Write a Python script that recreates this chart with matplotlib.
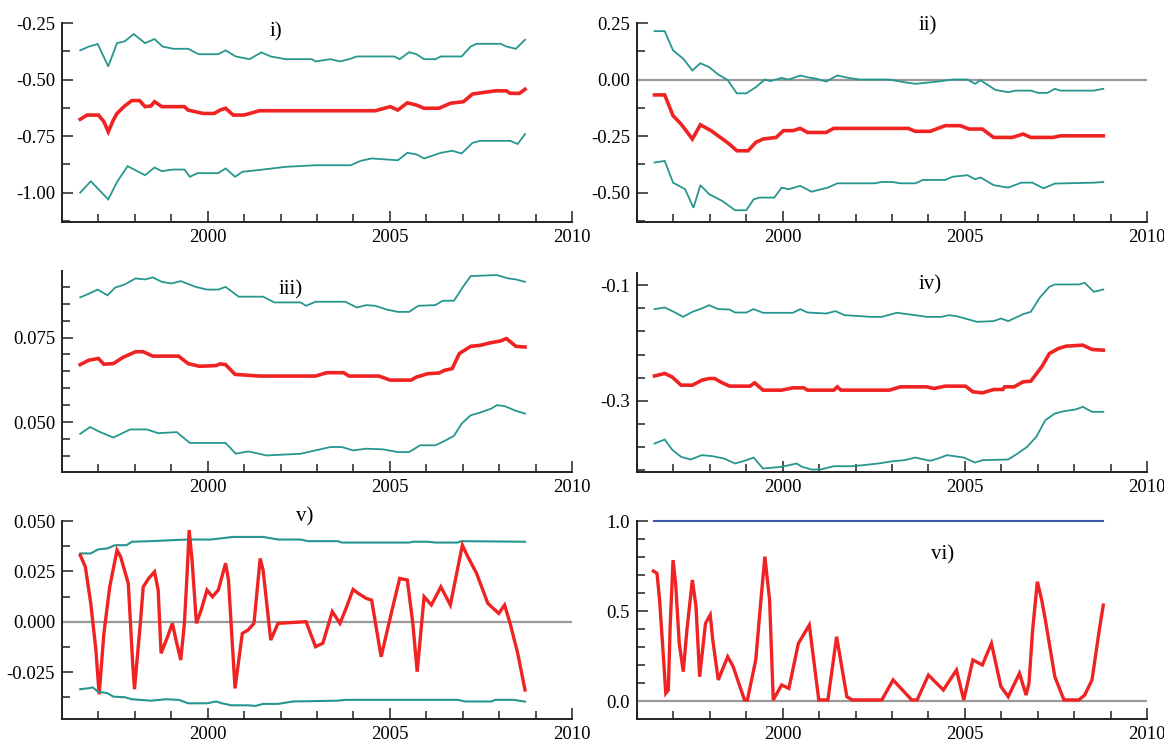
import numpy as np
import matplotlib
matplotlib.use('Agg')
import matplotlib.pyplot as plt
from matplotlib.ticker import FixedLocator, MultipleLocator

plt.rcParams['font.family'] = ['Liberation Serif', 'DejaVu Serif']
plt.rcParams['axes.unicode_minus'] = False

# ---- panel i) ----
i_upper = [(1996.50, -0.371), (1996.74, -0.354), (1996.98, -0.343), (1997.27, -0.442), (1997.51, -0.339),
           (1997.72, -0.331), (1997.97, -0.299), (1998.28, -0.339), (1998.54, -0.321), (1998.76, -0.354),
           (1999.05, -0.364), (1999.46, -0.364), (1999.75, -0.388), (2000.29, -0.388), (2000.49, -0.371),
           (2000.77, -0.398), (2001.15, -0.410), (2001.47, -0.380), (2001.73, -0.398), (2002.14, -0.410),
           (2002.86, -0.410), (2002.96, -0.420), (2003.37, -0.410), (2003.63, -0.420), (2003.88, -0.410),
           (2004.09, -0.398), (2005.12, -0.398), (2005.27, -0.410), (2005.53, -0.379), (2005.73, -0.388),
           (2005.94, -0.410), (2006.25, -0.410), (2006.40, -0.398), (2006.97, -0.398), (2007.22, -0.354),
           (2007.38, -0.342), (2008.04, -0.342), (2008.20, -0.354), (2008.46, -0.364), (2008.71, -0.324)]
i_mid = [(1996.50, -0.676), (1996.69, -0.657), (1997.00, -0.657), (1997.15, -0.686), (1997.27, -0.731),
         (1997.41, -0.679), (1997.51, -0.650), (1997.72, -0.617), (1997.92, -0.593), (1998.13, -0.593),
         (1998.28, -0.620), (1998.44, -0.617), (1998.54, -0.598), (1998.74, -0.620), (1999.36, -0.620),
         (1999.46, -0.635), (1999.87, -0.650), (2000.18, -0.650), (2000.34, -0.635), (2000.49, -0.627),
         (2000.70, -0.657), (2001.00, -0.657), (2001.42, -0.638), (2004.60, -0.638), (2005.01, -0.620),
         (2005.22, -0.635), (2005.48, -0.603), (2005.73, -0.613), (2005.94, -0.627), (2006.35, -0.627),
         (2006.66, -0.605), (2007.02, -0.598), (2007.27, -0.564), (2007.89, -0.550), (2008.20, -0.550),
         (2008.30, -0.561), (2008.56, -0.561), (2008.71, -0.543)]
i_lower = [(1996.50, -1.000), (1996.79, -0.950), (1997.27, -1.030), (1997.51, -0.953), (1997.80, -0.883),
           (1998.28, -0.923), (1998.54, -0.889), (1998.74, -0.905), (1999.05, -0.898), (1999.36, -0.898),
           (1999.51, -0.930), (1999.72, -0.914), (2000.29, -0.914), (2000.49, -0.893), (2000.75, -0.930),
           (2000.95, -0.908), (2001.52, -0.898), (2002.14, -0.886), (2002.96, -0.879), (2003.93, -0.879),
           (2004.19, -0.860), (2004.50, -0.849), (2005.22, -0.857), (2005.48, -0.824), (2005.73, -0.831),
           (2005.94, -0.849), (2006.40, -0.824), (2006.71, -0.815), (2006.97, -0.827), (2007.27, -0.780),
           (2007.48, -0.771), (2008.30, -0.771), (2008.51, -0.785), (2008.71, -0.741)]

# ---- panel ii) ----
ii_upper = [(1996.48, 0.214), (1996.76, 0.214), (1996.99, 0.129), (1997.27, 0.092), (1997.52, 0.040),
            (1997.74, 0.072), (1997.98, 0.055), (1998.23, 0.022), (1998.49, -0.002), (1998.74, -0.061),
            (1999.00, -0.061), (1999.26, -0.034), (1999.51, 0.000), (1999.66, -0.007), (1999.97, 0.007),
            (2000.17, 0.000), (2000.48, 0.018), (2000.68, 0.010), (2000.94, 0.003), (2001.19, -0.009),
            (2001.50, 0.018), (2001.81, 0.007), (2002.11, 0.000), (2002.93, 0.000), (2003.34, -0.012),
            (2003.64, -0.019), (2004.26, -0.009), (2004.66, 0.000), (2005.07, 0.000), (2005.28, -0.019),
            (2005.43, -0.003), (2005.58, -0.019), (2005.84, -0.046), (2006.19, -0.056), (2006.40, -0.049),
            (2006.81, -0.049), (2007.01, -0.059), (2007.27, -0.059), (2007.47, -0.041), (2007.62, -0.049),
            (2008.54, -0.049), (2008.80, -0.041)]
ii_mid = [(1996.48, -0.068), (1996.76, -0.068), (1996.99, -0.160), (1997.21, -0.197), (1997.52, -0.263),
          (1997.74, -0.200), (1998.03, -0.226), (1998.29, -0.256), (1998.54, -0.286), (1998.74, -0.315),
          (1999.05, -0.315), (1999.26, -0.278), (1999.46, -0.263), (1999.82, -0.256), (2000.02, -0.226),
          (2000.28, -0.226), (2000.48, -0.216), (2000.68, -0.234), (2001.19, -0.234), (2001.40, -0.216),
          (2003.44, -0.216), (2003.64, -0.229), (2004.05, -0.229), (2004.26, -0.216), (2004.46, -0.204),
          (2004.87, -0.204), (2005.12, -0.219), (2005.48, -0.219), (2005.79, -0.256), (2006.30, -0.256),
          (2006.60, -0.241), (2006.81, -0.256), (2007.42, -0.256), (2007.62, -0.249), (2008.80, -0.249)]
ii_lower = [(1996.48, -0.367), (1996.76, -0.360), (1996.99, -0.456), (1997.32, -0.485), (1997.55, -0.567),
            (1997.74, -0.467), (1997.98, -0.507), (1998.34, -0.537), (1998.69, -0.578), (1999.00, -0.578),
            (1999.20, -0.530), (1999.36, -0.522), (1999.77, -0.522), (1999.97, -0.478), (2000.17, -0.485),
            (2000.48, -0.470), (2000.79, -0.496), (2001.24, -0.478), (2001.50, -0.459), (2002.52, -0.459),
            (2002.72, -0.453), (2003.01, -0.453), (2003.23, -0.459), (2003.64, -0.459), (2003.85, -0.444),
            (2004.46, -0.444), (2004.66, -0.430), (2005.07, -0.423), (2005.28, -0.441), (2005.43, -0.433),
            (2005.79, -0.467), (2006.19, -0.478), (2006.55, -0.456), (2006.85, -0.456), (2007.16, -0.481),
            (2007.47, -0.460), (2008.54, -0.456), (2008.80, -0.453)]

# ---- panel iii) ----
iii_upper = [(1996.50, 0.0869), (1996.74, 0.0880), (1996.98, 0.0892), (1997.25, 0.0875), (1997.46, 0.0898),
             (1997.72, 0.0907), (1998.02, 0.0925), (1998.28, 0.0922), (1998.49, 0.0928), (1998.74, 0.0915),
             (1999.00, 0.0910), (1999.26, 0.0917), (1999.67, 0.0900), (1999.98, 0.0892), (2000.29, 0.0892),
             (2000.49, 0.0900), (2000.85, 0.0871), (2001.52, 0.0871), (2001.83, 0.0854), (2002.55, 0.0854),
             (2002.70, 0.0844), (2002.96, 0.0856), (2003.78, 0.0856), (2004.09, 0.0839), (2004.35, 0.0846),
             (2004.60, 0.0844), (2004.91, 0.0833), (2005.22, 0.0826), (2005.53, 0.0826), (2005.78, 0.0844),
             (2006.25, 0.0846), (2006.45, 0.0859), (2006.76, 0.0859), (2007.02, 0.0902), (2007.22, 0.0932),
             (2007.94, 0.0935), (2008.25, 0.0925), (2008.46, 0.0922), (2008.71, 0.0915)]
iii_mid = [(1996.50, 0.0670), (1996.74, 0.0683), (1997.00, 0.0688), (1997.15, 0.0671), (1997.41, 0.0673),
           (1997.67, 0.0691), (1998.02, 0.0708), (1998.23, 0.0708), (1998.49, 0.0695), (1999.20, 0.0695),
           (1999.46, 0.0673), (1999.77, 0.0665), (2000.23, 0.0667), (2000.34, 0.0672), (2000.49, 0.0670),
           (2000.75, 0.0641), (2001.42, 0.0636), (2002.96, 0.0636), (2003.27, 0.0646), (2003.73, 0.0646),
           (2003.88, 0.0636), (2004.70, 0.0636), (2005.01, 0.0624), (2005.58, 0.0624), (2005.73, 0.0633),
           (2006.04, 0.0643), (2006.35, 0.0645), (2006.50, 0.0653), (2006.71, 0.0658), (2006.91, 0.0703),
           (2007.22, 0.0724), (2007.48, 0.0727), (2007.74, 0.0734), (2008.04, 0.0740), (2008.20, 0.0747),
           (2008.46, 0.0724), (2008.71, 0.0722)]
iii_lower = [(1996.50, 0.0465), (1996.77, 0.0485), (1997.05, 0.0470), (1997.41, 0.0454), (1997.87, 0.0478),
             (1998.33, 0.0478), (1998.64, 0.0467), (1999.15, 0.0470), (1999.51, 0.0438), (2000.49, 0.0438),
             (2000.77, 0.0406), (2001.11, 0.0413), (2001.62, 0.0401), (2002.55, 0.0406), (2002.96, 0.0416),
             (2003.37, 0.0426), (2003.68, 0.0426), (2003.99, 0.0416), (2004.35, 0.0421), (2004.81, 0.0419),
             (2005.22, 0.0411), (2005.53, 0.0411), (2005.83, 0.0431), (2006.25, 0.0431), (2006.50, 0.0444),
             (2006.76, 0.0459), (2006.97, 0.0495), (2007.22, 0.0520), (2007.48, 0.0528), (2007.79, 0.0540),
             (2007.94, 0.0550), (2008.15, 0.0547), (2008.46, 0.0533), (2008.71, 0.0525)]

# ---- panel iv) ----
iv_upper = [(1996.48, -0.1415), (1996.76, -0.1386), (1997.01, -0.1461), (1997.27, -0.1548), (1997.52, -0.1461),
            (1997.78, -0.1403), (1997.98, -0.1346), (1998.23, -0.1415), (1998.54, -0.1421), (1998.69, -0.1473),
            (1999.00, -0.1473), (1999.20, -0.1415), (1999.46, -0.1478), (2000.28, -0.1478), (2000.48, -0.1415),
            (2000.68, -0.1473), (2001.19, -0.1490), (2001.45, -0.1450), (2001.70, -0.1519), (2002.42, -0.1548),
            (2002.72, -0.1548), (2003.13, -0.1478), (2003.64, -0.1519), (2003.95, -0.1548), (2004.36, -0.1548),
            (2004.56, -0.1519), (2004.77, -0.1536), (2005.17, -0.1605), (2005.33, -0.1634), (2005.79, -0.1622),
            (2005.99, -0.1576), (2006.19, -0.1622), (2006.60, -0.1501), (2006.81, -0.1461), (2007.06, -0.1213),
            (2007.32, -0.1029), (2007.47, -0.0988), (2008.13, -0.0988), (2008.29, -0.0960), (2008.54, -0.1115),
            (2008.80, -0.1075)]
iv_mid = [(1996.48, -0.2570), (1996.76, -0.2527), (1996.96, -0.2585), (1997.21, -0.2729), (1997.52, -0.2729),
          (1997.78, -0.2643), (1997.98, -0.2614), (1998.13, -0.2614), (1998.34, -0.2689), (1998.54, -0.2746),
          (1999.10, -0.2746), (1999.23, -0.2689), (1999.46, -0.2815), (1999.97, -0.2815), (2000.28, -0.2775),
          (2000.58, -0.2775), (2000.68, -0.2815), (2001.40, -0.2815), (2001.50, -0.2758), (2001.60, -0.2815),
          (2002.93, -0.2815), (2003.23, -0.2758), (2003.95, -0.2758), (2004.15, -0.2786), (2004.46, -0.2746),
          (2005.02, -0.2746), (2005.22, -0.2844), (2005.48, -0.2862), (2005.79, -0.2804), (2006.04, -0.2804),
          (2006.09, -0.2758), (2006.35, -0.2758), (2006.60, -0.2671), (2006.81, -0.2660), (2007.11, -0.2412),
          (2007.32, -0.2182), (2007.57, -0.2095), (2007.78, -0.2055), (2008.24, -0.2037), (2008.49, -0.2112),
          (2008.80, -0.2124)]
iv_lower = [(1996.48, -0.3738), (1996.76, -0.3669), (1996.96, -0.3841), (1997.21, -0.3968), (1997.47, -0.4014),
            (1997.78, -0.3939), (1998.08, -0.3957), (1998.39, -0.3997), (1998.69, -0.4083), (1998.95, -0.4037),
            (1999.20, -0.3980), (1999.46, -0.4170), (1999.97, -0.4141), (2000.38, -0.4083), (2000.53, -0.4141),
            (2000.79, -0.4187), (2001.04, -0.4187), (2001.40, -0.4130), (2001.91, -0.4130), (2002.21, -0.4112),
            (2002.62, -0.4083), (2003.03, -0.4043), (2003.34, -0.4026), (2003.64, -0.3980), (2004.05, -0.4037),
            (2004.26, -0.3997), (2004.51, -0.3939), (2004.97, -0.3980), (2005.28, -0.4066), (2005.48, -0.4026),
            (2006.19, -0.4014), (2006.45, -0.3910), (2006.71, -0.3795), (2006.96, -0.3622), (2007.21, -0.3334),
            (2007.47, -0.3219), (2007.72, -0.3179), (2008.03, -0.3150), (2008.24, -0.3104), (2008.49, -0.3190),
            (2008.80, -0.3190)]

# ---- panel v) ----
v_upper = [(1996.50, 0.0339), (1996.79, 0.0339), (1996.99, 0.0359), (1997.25, 0.0364), (1997.46, 0.0380),
           (1997.77, 0.0380), (1997.92, 0.0397), (1998.44, 0.0400), (1999.05, 0.0405), (1999.46, 0.0408),
           (2000.08, 0.0408), (2000.70, 0.0421), (2001.52, 0.0421), (2001.93, 0.0408), (2002.55, 0.0408),
           (2002.75, 0.0400), (2003.57, 0.0400), (2003.68, 0.0393), (2005.53, 0.0393), (2005.63, 0.0397),
           (2006.04, 0.0397), (2006.25, 0.0393), (2006.86, 0.0393), (2006.97, 0.0400), (2008.71, 0.0397)]
v_mid = [(1996.50, 0.0330), (1996.64, 0.0273), (1996.79, 0.0091), (1996.93, -0.0140), (1997.02, -0.0360),
         (1997.15, -0.0058), (1997.31, 0.0173), (1997.51, 0.0355), (1997.61, 0.0322), (1997.82, 0.0190),
         (1997.94, -0.0207), (1997.99, -0.0335), (1998.15, -0.0008), (1998.23, 0.0173), (1998.38, 0.0215),
         (1998.54, 0.0248), (1998.64, 0.0157), (1998.72, -0.0157), (1998.90, -0.0074), (1999.03, -0.0008),
         (1999.13, -0.0091), (1999.26, -0.0190), (1999.36, -0.0008), (1999.43, 0.0223), (1999.49, 0.0455),
         (1999.57, 0.0306), (1999.69, -0.0008), (1999.82, 0.0058), (1999.98, 0.0157), (2000.13, 0.0124),
         (2000.29, 0.0157), (2000.49, 0.0290), (2000.57, 0.0207), (2000.75, -0.0331), (2000.95, -0.0058),
         (2001.11, -0.0041), (2001.27, -0.0008), (2001.44, 0.0314), (2001.52, 0.0256), (2001.73, -0.0091),
         (2001.93, -0.0008), (2002.70, 0.0000), (2002.96, -0.0124), (2003.16, -0.0107), (2003.42, 0.0050),
         (2003.63, -0.0008), (2003.78, 0.0058), (2003.99, 0.0160), (2004.14, 0.0140), (2004.35, 0.0116),
         (2004.50, 0.0107), (2004.76, -0.0174), (2005.06, 0.0058), (2005.27, 0.0215), (2005.48, 0.0207),
         (2005.63, -0.0008), (2005.75, -0.0248), (2005.94, 0.0124), (2006.14, 0.0083), (2006.40, 0.0173),
         (2006.66, 0.0083), (2006.99, 0.0380), (2007.12, 0.0330), (2007.38, 0.0240), (2007.69, 0.0091),
         (2007.99, 0.0041), (2008.15, 0.0083), (2008.30, -0.0008), (2008.51, -0.0157), (2008.71, -0.0339)]
v_lower = [(1996.50, -0.0335), (1996.74, -0.0330), (1996.84, -0.0326), (1996.99, -0.0347), (1997.25, -0.0355),
           (1997.41, -0.0372), (1997.72, -0.0375), (1997.92, -0.0385), (1998.44, -0.0392), (1998.85, -0.0385),
           (1999.21, -0.0388), (1999.46, -0.0405), (1999.98, -0.0405), (2000.23, -0.0396), (2000.39, -0.0405),
           (2000.65, -0.0415), (2001.11, -0.0415), (2001.31, -0.0418), (2001.52, -0.0408), (2001.93, -0.0408),
           (2002.34, -0.0396), (2003.57, -0.0392), (2003.78, -0.0388), (2006.86, -0.0388), (2007.07, -0.0396),
           (2007.79, -0.0396), (2007.89, -0.0388), (2008.41, -0.0388), (2008.71, -0.0397)]

# ---- panel vi) ----
vi_mid = [(1996.45, 0.722), (1996.55, 0.709), (1996.62, 0.561), (1996.70, 0.320), (1996.79, 0.043),
          (1996.86, 0.061), (1996.91, 0.413), (1996.99, 0.783), (1997.06, 0.654), (1997.16, 0.320),
          (1997.27, 0.163), (1997.37, 0.394), (1997.52, 0.672), (1997.62, 0.524), (1997.72, 0.135),
          (1997.88, 0.431), (1998.01, 0.478), (1998.08, 0.339), (1998.23, 0.117), (1998.49, 0.246),
          (1998.64, 0.191), (1998.95, 0.006), (1999.03, 0.006), (1999.26, 0.228), (1999.41, 0.580),
          (1999.51, 0.802), (1999.64, 0.561), (1999.74, 0.006), (1999.97, 0.089), (2000.17, 0.070),
          (2000.43, 0.320), (2000.73, 0.422), (2000.99, 0.006), (2001.24, 0.006), (2001.48, 0.357),
          (2001.76, 0.024), (2001.91, 0.006), (2002.72, 0.006), (2003.03, 0.117), (2003.54, 0.006),
          (2003.69, 0.006), (2004.00, 0.144), (2004.41, 0.061), (2004.77, 0.172), (2004.97, 0.006),
          (2005.22, 0.228), (2005.48, 0.200), (2005.73, 0.320), (2005.99, 0.080), (2006.19, 0.024),
          (2006.50, 0.154), (2006.68, 0.033), (2006.76, 0.098), (2006.86, 0.394), (2006.99, 0.663),
          (2007.11, 0.561), (2007.21, 0.450), (2007.47, 0.135), (2007.72, 0.006), (2008.13, 0.006),
          (2008.29, 0.033), (2008.49, 0.117), (2008.69, 0.394), (2008.80, 0.533)]
vi_level = [(1996.48, 1.0), (2008.80, 1.0)]

TEAL = '#27968f'
RED = '#f02323'
BLUE = '#3c5aa8'
GREY = '#9a9a9a'

fig = plt.figure(figsize=(11.64, 7.47), dpi=100)
W, H = 1164, 747


def make_axes(left, top, right, bottom):
    return fig.add_axes([left / W, 1 - bottom / H, (right - left) / W, (bottom - top) / H])


def style(ax, ylim, yticks, ylabels, yminor):
    ax.set_xlim(1996, 2010)
    ax.set_ylim(*ylim)
    for s in ('top', 'right'):
        ax.spines[s].set_visible(False)
    for s in ('left', 'bottom'):
        ax.spines[s].set_linewidth(1.4)
        ax.spines[s].set_color('#222222')
    ax.xaxis.set_major_locator(FixedLocator([2000, 2005, 2010]))
    ax.xaxis.set_minor_locator(MultipleLocator(1))
    ax.set_xticklabels(['2000', '2005', '2010'])
    ax.yaxis.set_major_locator(FixedLocator(yticks))
    ax.set_yticklabels(ylabels)
    ax.yaxis.set_minor_locator(FixedLocator(yminor))
    ax.tick_params(which='both', direction='in', color='#222222', width=1.1, labelsize=13.5, pad=5)
    ax.tick_params(which='major', length=8)
    ax.tick_params(which='minor', length=5.5)


def line(ax, pts, color, lw):
    t, v = zip(*pts)
    ax.plot(t, v, color=color, lw=lw, solid_joinstyle='miter', clip_on=False)


# i)
ax = make_axes(62, 23, 572, 222)
line(ax, i_upper, TEAL, 1.3)
line(ax, i_mid, RED, 2.6)
line(ax, i_lower, TEAL, 1.3)
style(ax, (-1.13, -0.25), [-1.0, -0.75, -0.5, -0.25], ['-1.00', '-0.75', '-0.50', '-0.25'],
      np.arange(-1.125, -0.2, 0.125))
ax.text(0.42, 0.955, 'i)', transform=ax.transAxes, ha='center', va='center', fontsize=15)

# ii)
ax = make_axes(637, 23, 1147, 222)
ax.axhline(0, color=GREY, lw=1.6)
line(ax, ii_upper, TEAL, 1.3)
line(ax, ii_mid, RED, 2.6)
line(ax, ii_lower, TEAL, 1.3)
style(ax, (-0.63, 0.25), [-0.5, -0.25, 0, 0.25], ['-0.50', '-0.25', '0.00', '0.25'],
      np.arange(-0.625, 0.3, 0.125))
ax.text(0.571, 0.985, 'ii)', transform=ax.transAxes, ha='center', va='center', fontsize=15)

# iii)
ax = make_axes(62, 271, 572, 472)
line(ax, iii_upper, TEAL, 1.3)
line(ax, iii_mid, RED, 2.6)
line(ax, iii_lower, TEAL, 1.3)
style(ax, (0.0352, 0.0947), [0.05, 0.075], ['0.050', '0.075'], np.arange(0.04, 0.0945, 0.005))
ax.text(0.449, 0.907, 'iii)', transform=ax.transAxes, ha='center', va='center', fontsize=15)

# iv)
ax = make_axes(637, 273, 1147, 472)
line(ax, iv_upper, TEAL, 1.3)
line(ax, iv_mid, RED, 2.6)
line(ax, iv_lower, TEAL, 1.3)
style(ax, (-0.423, -0.079), [-0.3, -0.1], ['-0.3', '-0.1'], np.arange(-0.42, -0.08, 0.04))
ax.text(0.575, 0.938, 'iv)', transform=ax.transAxes, ha='center', va='center', fontsize=15)

# v)
ax = make_axes(62, 521, 572, 719)
ax.axhline(0, color=GREY, lw=1.6)
line(ax, v_upper, TEAL, 1.5)
line(ax, v_mid, RED, 2.4)
line(ax, v_lower, TEAL, 1.5)
style(ax, (-0.0483, 0.05), [-0.025, 0, 0.025, 0.05], ['-0.025', '0.000', '0.025', '0.050'],
      np.arange(-0.0375, 0.051, 0.0125))
ax.text(0.475, 1.02, 'v)', transform=ax.transAxes, ha='center', va='center', fontsize=15)

# vi)
ax = make_axes(637, 521, 1147, 719)
ax.axhline(0, color=GREY, lw=1.6)
line(ax, vi_level, BLUE, 1.5)
line(ax, vi_mid, RED, 2.4)
style(ax, (-0.1, 1.0), [0, 0.5, 1.0], ['0.0', '0.5', '1.0'], np.arange(0.1, 1.0, 0.1))
ax.text(0.6, 0.829, 'vi)', transform=ax.transAxes, ha='center', va='center', fontsize=15)

fig.savefig('out.png', dpi=100)
